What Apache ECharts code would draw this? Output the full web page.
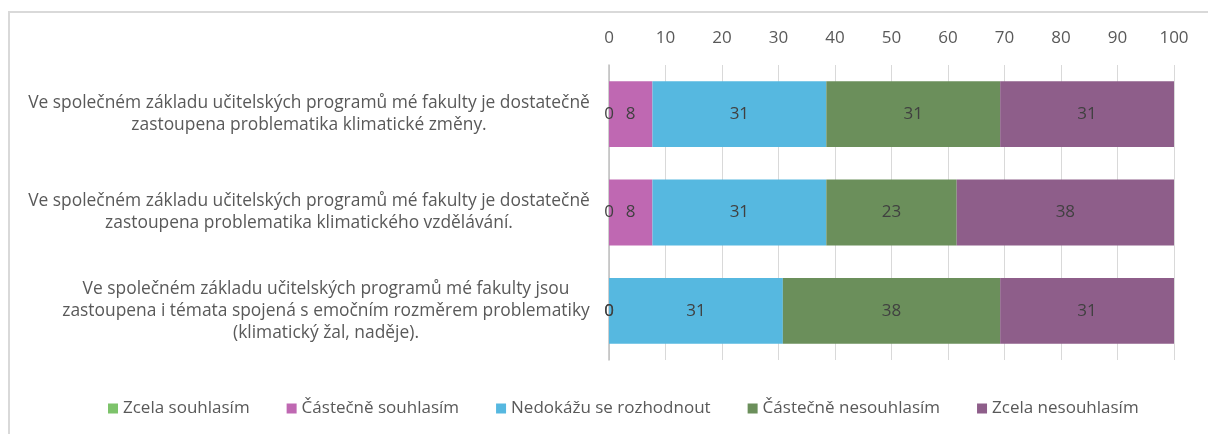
<!DOCTYPE html>
<html>
<head>
<meta charset="utf-8">
<script src="https://cdn.jsdelivr.net/npm/echarts@6/dist/echarts.min.js"></script>
<style>
  html, body { margin: 0; padding: 0; background: #fff; }
  #frame {
    position: absolute; left: 8px; top: 11px; width: 1200px; height: 423px;
    border-left: 2px solid #d9d9d9; border-top: 2px solid #d9d9d9; box-sizing: border-box;
  }
  #chart { position: absolute; left: 0; top: 0; width: 1208px; height: 434px; }
</style>
</head>
<body>
<div id="frame"></div>
<div id="chart"></div>
<script>
  // otázky (kategorie) – v pořadí shora dolů
  const categories = [
    'Ve společném základu učitelských programů mé fakulty je dostatečně\nzastoupena problematika klimatické změny.',
    'Ve společném základu učitelských programů mé fakulty je dostatečně\nzastoupena problematika klimatického vzdělávání.',
    'Ve společném základu učitelských programů mé fakulty jsou\nzastoupena i témata spojená s emočním rozměrem problematiky\n(klimatický žal, naděje).',
  ];
  const seriesNames = ['Zcela souhlasím', 'Částečně souhlasím', 'Nedokážu se rozhodnout', 'Částečně nesouhlasím', 'Zcela nesouhlasím'];
  const zcelaSouhlasim = [0, 0, 0];
  const castecneSouhlasim = [7.69, 7.69, 0];
  const nedokazu = [30.77, 30.77, 30.77];
  const castecneNesouhlasim = [30.77, 23.08, 38.46];
  const zcelaNesouhlasim = [30.77, 38.46, 30.77];
  const colors = ['#7dc36b', '#bf68b2', '#56b8e0', '#6b8f5b', '#8e5e8a'];

  const FONT = '"Open Sans", "Liberation Sans", Arial, sans-serif';
  const LABEL_SIZE = 17.4;

  // šířka nejdelšího řádku popisku -> řádky centrované v bloku zarovnaném doprava
  const ctx = document.createElement('canvas').getContext('2d');
  ctx.font = LABEL_SIZE + 'px ' + FONT;
  const rich = {};
  categories.forEach((c, i) => {
    const w = Math.max(...c.split('\n').map((l) => ctx.measureText(l).width));
    rich['c' + i] = { width: Math.ceil(w), align: 'center', fontSize: LABEL_SIZE, lineHeight: 22, color: '#595959', fontFamily: FONT };
  });

  const chart = echarts.init(document.getElementById('chart'));
  const allData = [zcelaSouhlasim, castecneSouhlasim, nedokazu, castecneNesouhlasim, zcelaNesouhlasim];

  chart.setOption({
    animation: false,
    color: colors,
    grid: { left: 609, right: 34, top: 65, bottom: 74 },
    legend: {
      bottom: 12,
      left: 103,
      itemWidth: 10,
      itemHeight: 10,
      itemGap: 37,
      icon: 'rect',
      textStyle: { fontSize: 17, color: '#595959', fontFamily: FONT },
      data: seriesNames,
    },
    xAxis: {
      type: 'value',
      position: 'top',
      min: 0,
      max: 100,
      interval: 10,
      axisLine: { show: false },
      axisTick: { show: false },
      axisLabel: { fontSize: 17, color: '#595959', fontFamily: FONT, margin: 18 },
      splitLine: { lineStyle: { color: '#d9d9d9' } },
    },
    yAxis: {
      type: 'category',
      inverse: true,
      data: categories,
      axisTick: { show: false },
      axisLine: { lineStyle: { color: '#bfbfbf', width: 1.5 } },
      axisLabel: {
        margin: 19,
        formatter: (val, idx) => val.split('\n').map((l) => '{c' + idx + '|' + l + '}').join('\n'),
        rich: rich,
      },
    },
    series: seriesNames.map((name, i) => ({
      name: name,
      type: 'bar',
      stack: 'total',
      barCategoryGap: '33%',
      data: allData[i],
      label: {
        show: true,
        position: 'inside',
        fontSize: 17,
        color: '#404040',
        fontFamily: FONT,
        formatter: (p) => Math.round(p.value),
      },
    })),
  });
</script>
</body>
</html>
